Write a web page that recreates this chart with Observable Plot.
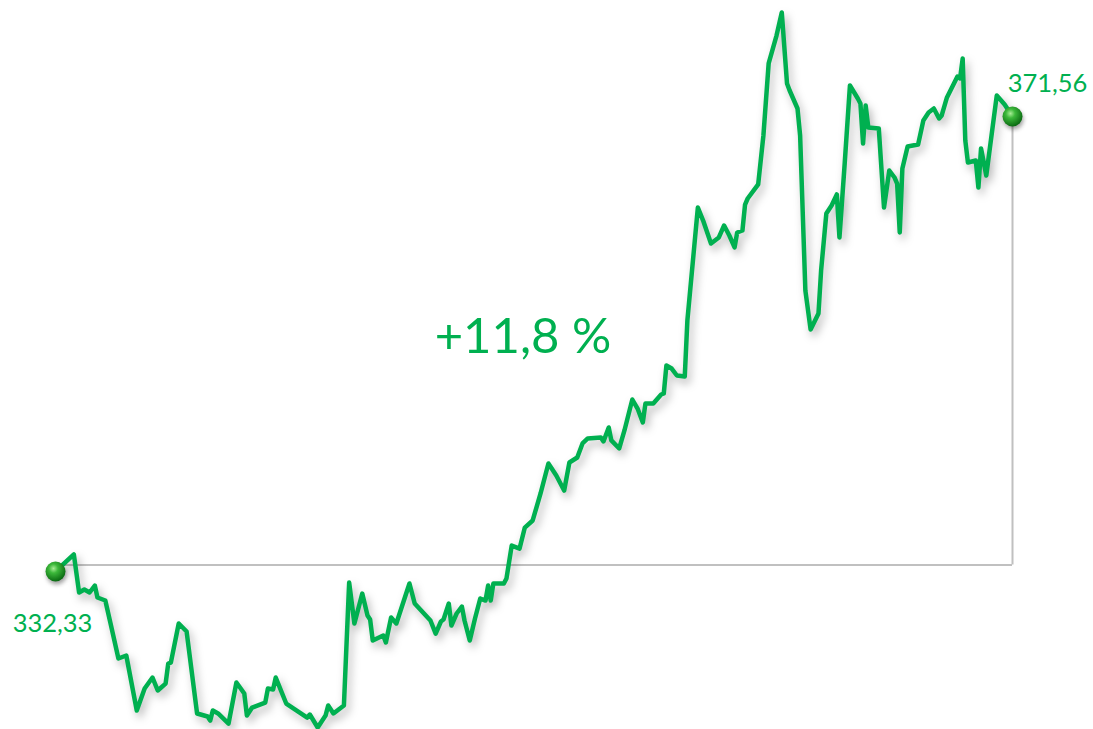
<!DOCTYPE html>
<html>
<head>
<meta charset="utf-8">
<script src="https://cdn.jsdelivr.net/npm/d3@7"></script>
<script src="https://cdn.jsdelivr.net/npm/@observablehq/plot@0.6"></script>
<style>
  html, body { margin: 0; padding: 0; background: #ffffff; }
  #chart { width: 1093px; height: 729px; overflow: hidden; }
</style>
</head>
<body>
<div id="chart"></div>
<script>
// Calendar day of each turning point (0 = start of period, 365 = end)
const days = [0,7,9,11,13,15,16,19,21,24,27,31,34,37,39,42,43,44,47,50,54,58,59,60,62,66,69,72,73,75,80,81,83,84,88,96,97,100,103,104,106,110,112,114,117,119,120,121,125,126,128,130,135,137,143,145,147,148,150,151,153,155,156,158,160,162,164,165,166,167,171,172,174,177,179,182,185,188,191,194,196,199,201,203,208,209,211,212,215,217,220,222,224,225,228,231,232,233,235,237,240,241,245,247,250,253,255,257,259,260,262,263,264,268,270,272,275,277,279,280,283,284,286,288,291,292,294,296,298,299,301,303,306,307,308,309,310,314,316,318,320,321,322,323,325,329,331,333,335,337,338,340,344,345,346,347,348,351,352,353,355,359,362,365];
// Index value at each of those days
const values = [332.33,333.80,330.52,330.78,330.52,331.12,330.09,329.83,327.85,324.83,325.09,320.35,322.24,323.19,322.07,322.67,324.40,324.48,327.85,327.16,320.09,319.83,319.48,320.35,320.09,319.22,322.76,321.81,319.91,320.60,321.03,322.24,322.16,323.19,320.95,319.74,320.00,318.88,319.91,320.78,320.09,320.78,331.38,327.85,330.43,328.54,328.19,326.38,326.81,326.21,328.36,327.85,331.30,329.57,328.11,326.98,328.02,328.19,329.57,327.67,328.71,329.31,328.11,326.38,328.28,330.00,329.83,331.12,329.83,331.30,331.30,331.73,334.57,334.31,336.12,336.73,339.06,341.64,340.61,339.31,341.73,342.16,343.37,343.80,343.88,343.54,344.75,343.63,342.94,344.49,347.16,346.38,345.18,346.82,346.82,347.59,347.68,350.09,349.83,349.23,349.14,353.97,363.71,362.59,360.61,361.13,362.16,361.30,360.27,361.56,361.73,363.97,364.49,365.70,369.92,376.13,378.54,380.53,374.41,373.80,372.25,369.92,356.56,353.20,354.58,358.28,363.20,363.89,364.84,361.13,367.51,374.23,373.11,372.68,369.23,372.51,370.61,370.53,363.71,366.90,366.30,365.78,361.56,367.08,368.97,369.15,371.22,371.91,372.25,371.39,371.65,373.20,375.01,374.84,376.56,369.49,367.59,367.77,365.44,368.80,366.47,373.37,372.60,371.56];
// Level of the grey reference line
const baselineValue = 332.9;

const data = days.map((d, i) => ({day: d, value: values[i]}));
const first = data[0];
const last = data[data.length - 1];
const ends = [first, last];

const fmt = v => v.toFixed(2).replace(".", ",");
const change = (last.value / first.value - 1) * 100;
const changeLabel = (change >= 0 ? "+" : "") + change.toFixed(1).replace(".", ",") + " %";

const green = "#00b050";
const grey = "#c0c0c0";

const chart = Plot.plot({
  width: 1093,
  height: 729,
  marginLeft: 55,
  marginRight: 81,
  marginTop: 0,
  marginBottom: 0,
  x: {domain: [0, 365], axis: null},
  y: {domain: [318.71, 381.56], axis: null},
  style: {background: "#ffffff", fontFamily: "Lato, 'Open Sans', sans-serif"},
  marks: [
    Plot.ruleY([baselineValue], {x1: first.day, x2: last.day, stroke: grey, strokeWidth: 2}),
    Plot.ruleX([last], {x: "day", y1: baselineValue, y2: "value", stroke: grey, strokeWidth: 2, insetBottom: -4}),
    Plot.line(data, {x: "day", y: "value", stroke: green, strokeWidth: 4.5, strokeLinejoin: "round", strokeLinecap: "round"}),
    Plot.dot(ends, {x: "day", y: "value", r: 10, fill: "url(#ball)", stroke: "none"}),
    Plot.text([first], {x: "day", y: "value", text: d => fmt(d.value), dx: -3, dy: 52, fill: green, fontSize: 25.5}),
    Plot.text([last], {x: "day", y: "value", text: d => fmt(d.value), dx: 35, dy: -33, fill: green, fontSize: 25.5}),
    Plot.text([changeLabel], {frameAnchor: "middle", text: d => d, dx: -11, dy: -28, fill: green, fontSize: 49})
  ]
});

// gradient for the glossy end markers and soft shadows
const svg = d3.select(chart);
const defs = svg.insert("defs", ":first-child");
const grad = defs.append("radialGradient").attr("id", "ball").attr("cx", "40%").attr("cy", "35%").attr("r", "65%");
grad.append("stop").attr("offset", "0%").attr("stop-color", "#a8ec96");
grad.append("stop").attr("offset", "35%").attr("stop-color", "#3cb83a");
grad.append("stop").attr("offset", "100%").attr("stop-color", "#0a6a12");
svg.selectAll('g[aria-label="line"]').style("filter", "drop-shadow(3px 5px 4px rgba(0,0,0,0.28))");
svg.selectAll('g[aria-label="dot"]').style("filter", "drop-shadow(1px 3px 2px rgba(0,0,0,0.35))");

document.getElementById("chart").appendChild(chart);
</script>
</body>
</html>
